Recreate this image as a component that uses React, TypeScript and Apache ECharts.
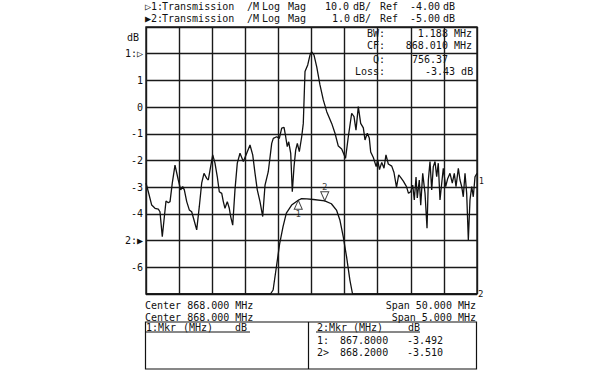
import React, { useEffect, useRef } from 'react';
import * as echarts from 'echarts';

// Trace 1: wide span (843–893 MHz), 10 dB/div, ref -4 dB
const t1Freq = [843.0,843.35,843.86,844.36,844.86,845.11,845.46,845.72,846.02,846.37,846.63,846.97,847.38,847.88,848.24,848.54,848.79,849.15,849.54,849.90,850.25,850.66,851.05,851.41,851.76,852.17,852.41,852.67,853.08,853.42,853.77,854.07,854.44,854.68,854.93,855.28,855.58,855.79,856.10,856.44,856.79,857.20,857.70,858.11,858.71,859.12,859.47,859.81,860.22,860.63,860.98,861.47,861.99,862.23,862.74,863.14,863.50,863.85,864.10,864.34,864.56,864.86,865.10,865.36,865.61,865.86,866.16,866.52,866.76,867.02,867.43,867.77,868.03,868.38,868.79,869.28,869.78,870.30,871.05,871.55,872.05,872.56,873.14,873.56,874.07,874.42,874.72,875.07,875.43,875.83,876.08,876.43,876.73,876.94,877.34,877.77,878.00,878.27,878.61,878.95,879.25,879.60,880.12,880.46,880.84,881.17,881.52,881.87,882.35,882.65,882.99,883.29,883.53,883.79,883.98,884.28,884.50,884.80,885.15,885.45,885.65,885.90,886.16,886.40,886.66,886.91,887.15,887.41,887.67,887.91,888.27,888.58,888.92,889.27,889.57,889.83,890.18,890.43,890.69,890.93,891.19,891.44,891.69,891.94,892.20,892.44,892.70,893.0];
const t1Db = [-52.5,-55.7,-60.7,-61.9,-62.2,-63.2,-72.5,-66.3,-59.2,-59.8,-59.4,-52.5,-45.7,-51.3,-55.0,-53.8,-55.0,-59.4,-62.5,-63.2,-66.3,-70.0,-61.3,-52.5,-48.8,-50.7,-51.3,-47.6,-41.9,-45.0,-50.1,-55.7,-56.3,-59.4,-61.9,-59.4,-61.9,-65.0,-68.2,-55.0,-45.0,-41.3,-44.4,-41.9,-38.2,-41.9,-48.8,-55.0,-59.4,-65.0,-53.2,-48.2,-37.6,-35.7,-35.1,-35.7,-31.9,-31.6,-35.1,-38.8,-37.0,-41.3,-55.7,-46.3,-40.1,-37.6,-40.7,-35.1,-30.1,-10.7,-8.2,-4.5,-3.3,-4.5,-8.9,-15.7,-21.3,-25.7,-30.1,-33.8,-38.6,-39.7,-43.2,-35.1,-26.3,-27.6,-32.6,-23.8,-30.1,-31.8,-36.3,-33.8,-35.6,-40.8,-42.9,-46.3,-43.8,-47.4,-44.7,-46.9,-41.9,-45.3,-46.1,-48.5,-54.1,-49.4,-50.5,-51.7,-53.8,-56.3,-55.7,-53.2,-58.8,-50.2,-58.0,-51.3,-60.7,-48.8,-56.3,-69.4,-51.3,-44.4,-55.0,-46.3,-44.4,-50.1,-45.0,-58.8,-52.5,-46.9,-53.8,-50.7,-48.8,-52.5,-48.8,-53.8,-46.9,-51.3,-53.8,-57.6,-48.8,-56.3,-73.8,-58.8,-53.8,-57.6,-50.1,-48.8];

// Trace 2: narrow span (865.5–870.5 MHz), 1 dB/div, ref -5 dB
const t2Freq = [865.5,867.38,867.42,867.47,867.52,867.57,867.62,867.70,867.80,867.85,867.93,868.03,868.2,868.3,868.38,868.43,868.48,868.53,868.58,868.62,870.5];
const t2Db = [-7,-7,-6.85,-5.98,-5.10,-4.48,-3.97,-3.67,-3.49,-3.43,-3.44,-3.46,-3.51,-3.62,-3.87,-4.24,-4.86,-5.61,-6.48,-7,-7];

// Markers on trace 2
const markerFreq = [867.8, 868.2];
const markerDb = [-3.492, -3.51];
const markerTags = ['1:', '2>'];

// Y tick labels (trace 2 scale)
const yTickText: Record<string, string> = { '3': '', '2': '1:\u25B7', '-5': '2:\u25B6', '-7': '' };

const FONT = '10px "DejaVu Sans Mono", monospace';
const INK = '#111';

function txt(text: string, x: number, y: number, align: string = 'left', font: string = FONT) {
  return {
    type: 'text',
    x,
    y,
    silent: true,
    style: {
      text,
      font,
      fill: INK,
      textAlign: align,
      textVerticalAlign: 'middle',
      align,
      verticalAlign: 'middle',
    },
  };
}

export default function App() {
  const ref = useRef<HTMLDivElement>(null);

  useEffect(() => {
    document.body.style.margin = '0';
    const chart = echarts.init(ref.current!, null, { renderer: 'svg' });

    const t1Data = t1Freq.map((f, i) => [f, t1Db[i]]);
    const t2Data = t2Freq.map((f, i) => [f, t2Db[i]]);
    const markerData = markerFreq.map((f, i) => ({
      value: [f, markerDb[i]],
      symbol: 'triangle',
      symbolRotate: i === 0 ? 0 : 180,
      symbolOffset: [0, i === 0 ? 4.5 : -4.5],
      label: {
        show: true,
        formatter: String(i + 1),
        position: i === 0 ? 'bottom' : 'top',
        distance: 0,
        fontSize: 9,
        fontFamily: 'DejaVu Sans Mono',
        color: INK,
      },
    }));

    const fmtF = (v: number) => v.toFixed(4);
    const fmtD = (v: number) => v.toFixed(3);

    const graphics: any[] = [
      // header lines
      txt('\u25B71:', 145, 6.5),
      txt('Transmission', 162, 6.5),
      txt('/M', 247, 6.5),
      txt('Log', 262, 6.5),
      txt('Mag', 288, 6.5),
      txt('10.0', 325, 6.5),
      txt('dB/', 353, 6.5),
      txt('Ref', 380, 6.5),
      txt('-4.00', 410, 6.5),
      txt('dB', 443, 6.5),
      txt('\u25B62:', 145, 18.5),
      txt('Transmission', 162, 18.5),
      txt('/M', 247, 18.5),
      txt('Log', 262, 18.5),
      txt('Mag', 288, 18.5),
      txt('1.0', 332, 18.5),
      txt('dB/', 353, 18.5),
      txt('Ref', 380, 18.5),
      txt('-5.00', 410, 18.5),
      txt('dB', 443, 18.5),
      // axis unit
      txt('dB', 139, 37, 'right'),
      // annotation block
      txt('BW:', 385, 33.5, 'right'),
      txt('1.188 MHz', 472, 33.5, 'right'),
      txt('CF:', 385, 45, 'right'),
      txt('868.010 MHz', 472, 45, 'right'),
      txt('Q:', 385, 59, 'right'),
      txt('756.37', 412, 59),
      txt('Loss:', 385, 71, 'right'),
      txt('-3.43 dB', 425, 71),
      // bottom stimulus lines
      txt('Center 868.000 MHz', 145, 305),
      txt('Span 50.000 MHz', 476, 305, 'right'),
      txt('Center 868.000 MHz', 145, 317.5),
      txt('Span 5.000 MHz', 476, 317.5, 'right'),
      // marker table
      {
        type: 'rect',
        silent: true,
        shape: { x: 145.5, y: 322, width: 331, height: 47 },
        style: { fill: 'none', stroke: INK, lineWidth: 1.2 },
      },
      {
        type: 'line',
        silent: true,
        shape: { x1: 308.5, y1: 322, x2: 308.5, y2: 369 },
        style: { stroke: INK, lineWidth: 1.2 },
      },
      txt('1:Mkr', 146, 327),
      txt('(MHz)', 183, 327),
      txt('dB', 235, 327),
      {
        type: 'line',
        silent: true,
        shape: { x1: 146, y1: 332, x2: 250, y2: 332 },
        style: { stroke: INK, lineWidth: 1 },
      },
      txt('2:Mkr', 317, 327),
      txt('(MHz)', 353, 327),
      txt('dB', 408, 327),
      {
        type: 'line',
        silent: true,
        shape: { x1: 316, y1: 332, x2: 420, y2: 332 },
        style: { stroke: INK, lineWidth: 1 },
      },
    ];
    markerFreq.forEach((f, i) => {
      const y = 340 + i * 12.5;
      graphics.push(txt(markerTags[i], 317, y));
      graphics.push(txt(fmtF(f), 340, y));
      graphics.push(txt(fmtD(markerDb[i]), 407, y));
    });

    const gridLine = { show: true, lineStyle: { color: '#1a1a1a', width: 1.4 } };

    chart.setOption({
      animation: false,
      backgroundColor: '#fff',
      textStyle: { fontFamily: 'DejaVu Sans Mono' },
      grid: {
        left: 146,
        top: 27,
        width: 331,
        height: 267,
        show: true,
        borderColor: '#1a1a1a',
        borderWidth: 1.4,
        backgroundColor: 'transparent',
      },
      xAxis: [
        {
          type: 'value',
          min: 865.5,
          max: 870.5,
          interval: 0.5,
          axisLine: { show: false },
          axisTick: { show: false },
          axisLabel: { show: false },
          splitLine: gridLine,
        },
        {
          type: 'value',
          min: 843,
          max: 893,
          show: false,
          splitLine: { show: false },
        },
      ],
      yAxis: [
        {
          type: 'value',
          min: -7,
          max: 3,
          interval: 1,
          axisLine: { show: false },
          axisTick: { show: false },
          splitLine: gridLine,
          axisLabel: {
            margin: 3,
            fontSize: 10,
            fontFamily: 'DejaVu Sans Mono',
            color: INK,
            formatter: (v: number) => {
              const k = String(v);
              return k in yTickText ? yTickText[k] : k;
            },
          },
        },
        {
          type: 'value',
          min: -94,
          max: 6,
          show: false,
          splitLine: { show: false },
        },
      ],
      series: [
        {
          name: 'Trace 1',
          type: 'line',
          xAxisIndex: 1,
          yAxisIndex: 1,
          data: t1Data,
          showSymbol: false,
          symbol: 'none',
          lineStyle: { color: INK, width: 1.3 },
          endLabel: {
            show: true,
            formatter: '1',
            fontSize: 8,
            color: INK,
            distance: 2,
            offset: [0, 8],
          },
        },
        {
          name: 'Trace 2',
          type: 'line',
          xAxisIndex: 0,
          yAxisIndex: 0,
          data: t2Data,
          showSymbol: false,
          symbol: 'none',
          lineStyle: { color: INK, width: 1.3 },
          endLabel: {
            show: true,
            formatter: '2',
            fontSize: 9,
            color: INK,
            distance: 1,
            offset: [0, 0],
          },
        },
        {
          name: 'Markers',
          type: 'scatter',
          xAxisIndex: 0,
          yAxisIndex: 0,
          symbolSize: [8, 9],
          itemStyle: { color: '#fff', borderColor: INK, borderWidth: 1 },
          data: markerData,
          z: 5,
        },
      ],
      graphic: { elements: graphics },
    });

    return () => {
      chart.dispose();
    };
  }, []);

  return (
    <div
      ref={ref}
      style={{ position: 'absolute', left: 0, top: 0, width: 606, height: 371 }}
    />
  );
}
